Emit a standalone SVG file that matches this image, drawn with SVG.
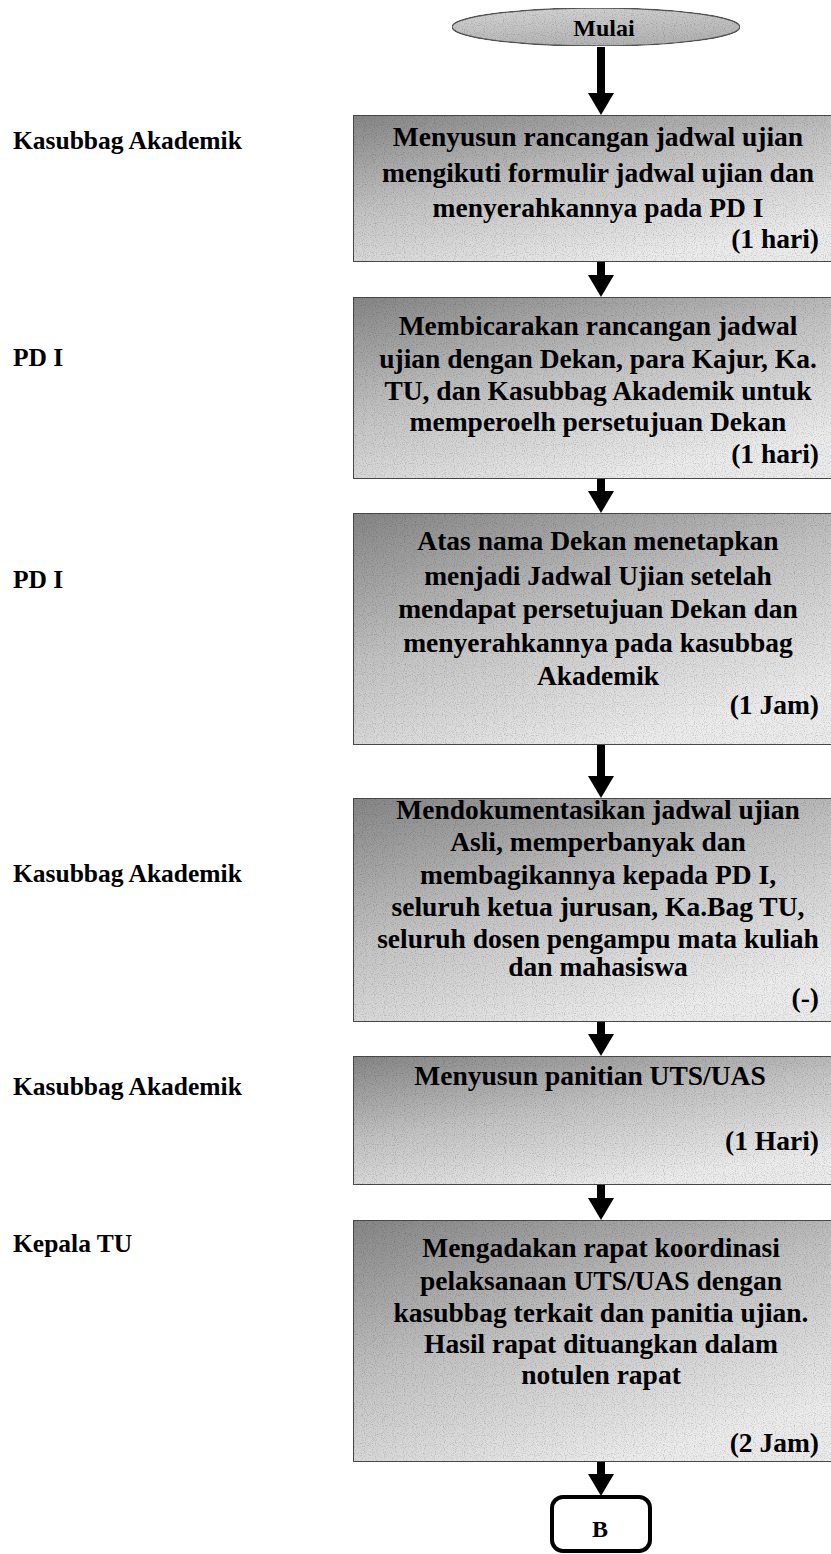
<svg xmlns="http://www.w3.org/2000/svg" width="831" height="1554" viewBox="0 0 831 1554">
<style>
.lane{font-family:"Liberation Serif","Times New Roman",serif;font-weight:bold;font-size:25.5px;fill:#000}
.t{font-family:"Liberation Serif","Times New Roman",serif;font-weight:bold;font-size:27.5px;fill:#000;text-anchor:middle}
.d{font-family:"Liberation Serif","Times New Roman",serif;font-weight:bold;font-size:27.5px;fill:#000;text-anchor:end}
.box{fill:url(#g);stroke:#4a4a4a;stroke-width:2;filter:url(#grain)}
.conn{stroke:#000;stroke-width:8;fill:none;marker-end:url(#ah)}
</style>
<defs>
<linearGradient id="g" x1="0" y1="0" x2="0.55" y2="1">
<stop offset="0" stop-color="#868686"/>
<stop offset="0.5" stop-color="#c2c2c2"/>
<stop offset="1" stop-color="#ececec"/>
</linearGradient>
<linearGradient id="ge" x1="0" y1="0" x2="0.4" y2="1">
<stop offset="0" stop-color="#d6d6d6"/>
<stop offset="1" stop-color="#b4b4b4"/>
</linearGradient>
<filter id="grain" x="0" y="0" width="1" height="1">
<feTurbulence type="fractalNoise" baseFrequency="0.9" numOctaves="1" seed="4" result="n"/>
<feColorMatrix in="n" type="matrix" values="1.1 0 0 0 0.42  1.1 0 0 0 0.42  1.1 0 0 0 0.42  0 0 0 0 1" result="gn"/>
<feBlend in="SourceGraphic" in2="gn" mode="multiply" result="b"/>
<feComposite in="b" in2="SourceGraphic" operator="in"/>
</filter>
<marker id="ah" markerUnits="userSpaceOnUse" markerWidth="22" markerHeight="26" refX="0" refY="13" orient="auto">
<path d="M0,0 L22,13 L0,26 Z" fill="#000"/>
</marker>
</defs>
<rect width="831" height="1554" fill="#fff"/>

<g id="lanes">
<text class="lane" x="13" y="149">Kasubbag Akademik</text>
<text class="lane" x="13" y="366">PD I</text>
<text class="lane" x="13" y="588">PD I</text>
<text class="lane" x="13" y="882">Kasubbag Akademik</text>
<text class="lane" x="13" y="1095">Kasubbag Akademik</text>
<text class="lane" x="13" y="1252">Kepala TU</text>
</g>

<g id="connectors">
<line class="conn" x1="601" y1="47" x2="601" y2="93"/>
<line class="conn" x1="601" y1="262" x2="601" y2="275"/>
<line class="conn" x1="601" y1="479" x2="601" y2="491"/>
<line class="conn" x1="601" y1="745" x2="601" y2="776"/>
<line class="conn" x1="601" y1="1022" x2="601" y2="1034"/>
<line class="conn" x1="601" y1="1185" x2="601" y2="1198"/>
<line class="conn" x1="601" y1="1462" x2="601" y2="1474"/>
</g>

<g id="start">
<ellipse cx="596" cy="27" rx="144" ry="19" fill="url(#ge)" stroke="#555" stroke-width="1.5" filter="url(#grain)"/>
<text class="t" x="604" y="36" style="font-size:24px">Mulai</text>
</g>

<g id="step1">
<rect class="box" x="353" y="115" width="480" height="147"/>
<text class="t" x="598" y="146">Menyusun rancangan jadwal ujian</text>
<text class="t" x="598" y="182">mengikuti formulir jadwal ujian dan</text>
<text class="t" x="598" y="217">menyerahkannya pada PD I</text>
<text class="d" x="819" y="248">(1 hari)</text>
</g>

<g id="step2">
<rect class="box" x="353" y="297" width="480" height="182"/>
<text class="t" x="598" y="335">Membicarakan rancangan jadwal</text>
<text class="t" x="598" y="368">ujian dengan Dekan, para Kajur, Ka.</text>
<text class="t" x="598" y="400">TU, dan Kasubbag Akademik untuk</text>
<text class="t" x="598" y="431">memperoelh persetujuan Dekan</text>
<text class="d" x="819" y="463">(1 hari)</text>
</g>

<g id="step3">
<rect class="box" x="353" y="513" width="480" height="232"/>
<text class="t" x="598" y="550">Atas nama Dekan menetapkan</text>
<text class="t" x="598" y="585">menjadi Jadwal Ujian setelah</text>
<text class="t" x="598" y="618">mendapat persetujuan Dekan dan</text>
<text class="t" x="598" y="652">menyerahkannya pada kasubbag</text>
<text class="t" x="598" y="685">Akademik</text>
<text class="d" x="819" y="714">(1 Jam)</text>
</g>

<g id="step4">
<rect class="box" x="353" y="798" width="480" height="224"/>
<text class="t" x="598" y="819">Mendokumentasikan jadwal ujian</text>
<text class="t" x="598" y="851">Asli, memperbanyak dan</text>
<text class="t" x="598" y="884">membagikannya kepada PD I,</text>
<text class="t" x="598" y="916">seluruh ketua jurusan, Ka.Bag TU,</text>
<text class="t" x="598" y="948">seluruh dosen pengampu mata kuliah</text>
<text class="t" x="598" y="976">dan mahasiswa</text>
<text class="d" x="819" y="1007">(-)</text>
</g>

<g id="step5">
<rect class="box" x="353" y="1056" width="480" height="129"/>
<text class="t" x="590" y="1085">Menyusun panitian UTS/UAS</text>
<text class="d" x="819" y="1150">(1 Hari)</text>
</g>

<g id="step6">
<rect class="box" x="353" y="1220" width="480" height="242"/>
<text class="t" x="601" y="1257">Mengadakan rapat koordinasi</text>
<text class="t" x="601" y="1290">pelaksanaan UTS/UAS dengan</text>
<text class="t" x="601" y="1322">kasubbag terkait dan panitia ujian.</text>
<text class="t" x="601" y="1353">Hasil rapat dituangkan dalam</text>
<text class="t" x="601" y="1384">notulen rapat</text>
<text class="d" x="819" y="1452">(2 Jam)</text>
</g>

<g id="connector-B">
<rect x="552" y="1497" width="98" height="54" rx="11" fill="#fff" stroke="#000" stroke-width="4"/>
<text class="t" x="600" y="1537" style="font-size:24px">B</text>
</g>
</svg>
